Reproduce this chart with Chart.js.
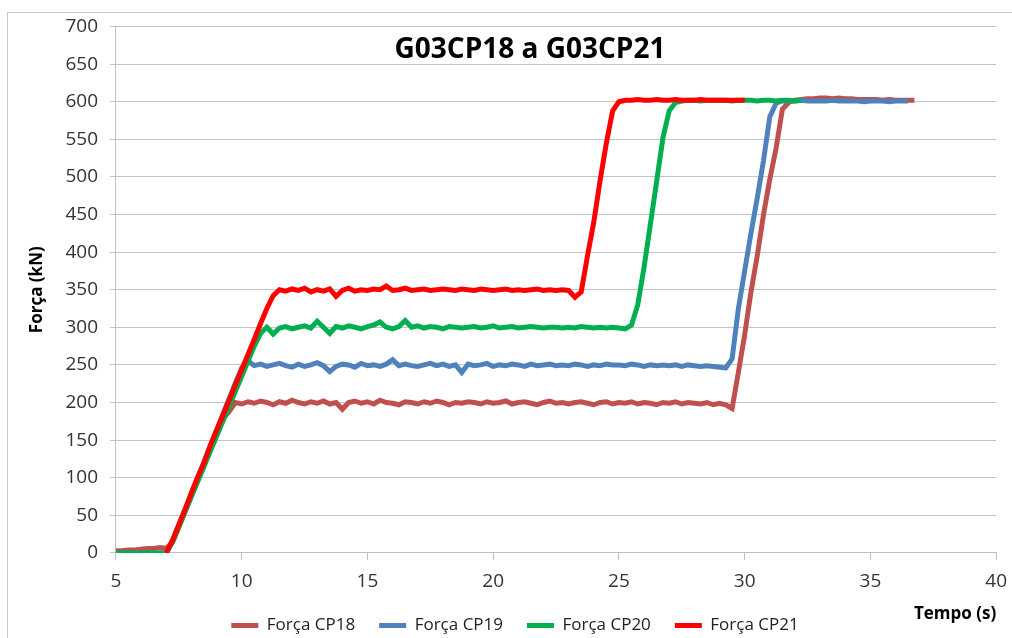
<!DOCTYPE html>
<html>
<head>
<meta charset="utf-8">
<script src="https://cdn.jsdelivr.net/npm/chart.js@4.4.1/dist/chart.umd.min.js"></script>
<style>
html, body { margin: 0; padding: 0; background: #fff; }
#wrap { position: relative; width: 1012px; height: 638px; overflow: hidden; }
#frame { position: absolute; left: 7px; top: 12px; width: 1100px; height: 700px; border-left: 1px solid #c8c8c8; border-top: 1px solid #c8c8c8; pointer-events: none; }
</style>
</head>
<body>
<div id="wrap">
  <canvas id="forceChart" width="1012" height="638"></canvas>
  <div id="frame"></div>
</div>
<script>
// dados (tempo em s, força em kN)
const titulo = 'G03CP18 a G03CP21';
const nomes = ['Força CP18', 'Força CP19', 'Força CP20', 'Força CP21'];
const cores = ['#C0504D', '#4F81BD', '#00B050', '#FF0000'];

const tempo = [
  5, 5.25, 5.5, 5.75, 6, 6.25, 6.5, 6.75,
  7, 7.25, 7.5, 7.75, 8, 8.25, 8.5, 8.75,
  9, 9.25, 9.5, 9.75, 10, 10.25, 10.5, 10.75,
  11, 11.25, 11.5, 11.75, 12, 12.25, 12.5, 12.75,
  13, 13.25, 13.5, 13.75, 14, 14.25, 14.5, 14.75,
  15, 15.25, 15.5, 15.75, 16, 16.25, 16.5, 16.75,
  17, 17.25, 17.5, 17.75, 18, 18.25, 18.5, 18.75,
  19, 19.25, 19.5, 19.75, 20, 20.25, 20.5, 20.75,
  21, 21.25, 21.5, 21.75, 22, 22.25, 22.5, 22.75,
  23, 23.25, 23.5, 23.75, 24, 24.25, 24.5, 24.75,
  25, 25.25, 25.5, 25.75, 26, 26.25, 26.5, 26.75,
  27, 27.25, 27.5, 27.75, 28, 28.25, 28.5, 28.75,
  29, 29.25, 29.5, 29.75, 30, 30.25, 30.5, 30.75,
  31, 31.25, 31.5, 31.75, 32, 32.25, 32.5, 32.75,
  33, 33.25, 33.5, 33.75, 34, 34.25, 34.5, 34.75,
  35, 35.25, 35.5, 35.75, 36, 36.25, 36.5, 36.75
];

const cp18 = [
  3, 3, 4, 4, 5, 6, 6, 7,
  6, 14, 34, 55, 76, 97, 117, 137,
  157, 178, 188, 200, 198, 201, 199, 202,
  200, 197, 201, 199, 203, 200, 198, 201,
  199, 202, 198, 200, 191, 200, 202, 199,
  201, 198, 203, 200, 199, 197, 201, 200,
  198, 201, 199, 202, 200, 197, 200, 199,
  201, 200, 198, 201, 199, 200, 202, 198,
  200, 201, 199, 197, 200, 202, 199, 200,
  198, 200, 201, 199, 197, 200, 201, 198,
  200, 199, 201, 198, 200, 199, 197, 200,
  199, 201, 198, 200, 199, 198, 200, 197,
  199, 197, 192, 240, 290, 347, 395, 450,
  497, 538, 590, 599, 602, 603, 604, 604,
  605, 605, 604, 605, 604, 604, 603, 603,
  603, 603, 602, 603, 602, 602, 602, 602
];

const cp19 = [
  0, 0, 0, 0, 0, 0, 0, 0,
  0, 16, 37, 58, 79, 100, 121, 142,
  163, 184, 205, 226, 246, 255, 249, 251,
  248, 250, 252, 249, 247, 251, 248, 250,
  253, 249, 241, 248, 251, 250, 247, 252,
  249, 250, 248, 251, 257, 249, 251, 249,
  248, 250, 252, 249, 251, 248, 250, 240,
  251, 249, 250, 252, 248, 250, 249, 251,
  250, 248, 251, 249, 250, 251, 249, 250,
  249, 251, 250, 248, 250, 249, 251, 250,
  250, 249, 251, 250, 248, 250, 249, 250,
  249, 250, 248, 250, 249, 248, 249, 248,
  247, 246, 258, 325, 375, 425, 472, 522,
  580, 598, 601, 601, 601, 602, 601, 601,
  601, 601, 602, 601, 601, 601, 601, 600,
  601, 601, 601, 600, 601, 601, 601, null
];

const cp20 = [
  0, 0, 0, 0, 0, 0, 0, 0,
  0, 15, 35, 55, 75, 95, 115, 135,
  155, 175, 195, 215, 235, 255, 275, 292,
  300, 291, 299, 301, 298, 300, 302, 299,
  308, 300, 292, 301, 299, 302, 300, 298,
  301, 303, 307, 300, 298, 301, 309, 300,
  302, 299, 301, 300, 298, 301, 300, 299,
  300, 301, 299, 300, 302, 299, 300, 301,
  299, 300, 301, 300, 299, 300, 300, 299,
  300, 299, 301, 300, 299, 300, 299, 300,
  299, 298, 303, 330, 380, 437, 494, 552,
  588, 599, 601, 602, 602, 601, 602, 602,
  602, 602, 601, 602, 602, 602, 601, 602,
  602, 601, 602, 602, 601, 602, null, null,
  null, null, null, null, null, null, null, null,
  null, null, null, null, null, null, null, null
];

const cp21 = [
  null, null, null, null, null, null, null, null,
  0, 17, 38, 58, 80, 101, 120, 143,
  163, 183, 203, 224, 244, 264, 284, 305,
  325, 342, 350, 348, 351, 349, 352, 347,
  350, 348, 351, 341, 349, 352, 348, 350,
  349, 351, 350, 355, 349, 350, 352, 349,
  350, 351, 349, 350, 351, 350, 349, 351,
  350, 349, 351, 350, 349, 350, 351, 349,
  350, 349, 350, 351, 349, 350, 349, 350,
  349, 340, 347, 395, 440, 495, 545, 588,
  600, 602, 602, 603, 602, 602, 603, 602,
  602, 603, 602, 602, 602, 603, 602, 602,
  602, 602, 602, 602, 602, null, null, null,
  null, null, null, null, null, null, null, null,
  null, null, null, null, null, null, null, null,
  null, null, null, null, null, null, null, null
];

const ticksX = [5, 10, 15, 20, 25, 30, 35, 40];
const ticksY = [0, 50, 100, 150, 200, 250, 300, 350, 400, 450, 500, 550, 600, 650, 700];

const series = [cp18, cp19, cp20, cp21];

function pontos(valores) {
    return tempo.map((t, i) => ({ x: t, y: valores[i] }));
}

// título desenhado sobre a área do gráfico, como no original
const tituloPlugin = {
    id: 'tituloPlugin',
    afterDraw(chart) {
        const c = chart.ctx;
        c.save();
        c.font = 'bold 28px "Open Sans"';
        c.fillStyle = '#000';
        c.textAlign = 'center';
        c.textBaseline = 'middle';
        c.fillText(titulo, 530, 50);
        c.restore();
    }
};

const ctx = document.getElementById('forceChart').getContext('2d');
const forceChart = new Chart(ctx, {
    type: 'line',
    data: {
        datasets: series.map((s, i) => ({
            label: nomes[i],
            data: pontos(s),
            borderColor: cores[i],
            backgroundColor: cores[i],
            borderWidth: 5,
            pointRadius: 0,
            tension: 0,
            fill: false,
            order: 4 - i
        }))
    },
    options: {
        responsive: false,
        animation: false,
        layout: {
            padding: { left: 28, right: 10, top: 26.5, bottom: -6 }
        },
        scales: {
            x: {
                type: 'linear',
                min: 5,
                max: 40,
                afterBuildTicks: axis => { axis.ticks = ticksX.map(v => ({ value: v })); },
                ticks: {
                    font: { family: 'Open Sans', size: 19, lineHeight: 1.8 },
                    color: '#333',
                    padding: 5,
                    maxRotation: 0
                },
                grid: {
                    drawOnChartArea: false,
                    drawTicks: true,
                    tickLength: 7,
                    color: '#bfbfbf'
                },
                border: { color: '#bfbfbf' },
                title: {
                    display: true,
                    text: 'Tempo (s)',
                    align: 'end',
                    color: '#000',
                    font: { family: 'Open Sans', size: 17, weight: 'bold' },
                    padding: { top: -0.5, bottom: -31 }
                }
            },
            y: {
                min: 0,
                max: 700,
                afterBuildTicks: axis => { axis.ticks = ticksY.map(v => ({ value: v })); },
                ticks: {
                    font: { family: 'Open Sans', size: 19 },
                    color: '#333',
                    padding: 12
                },
                grid: {
                    color: '#c4c4c4',
                    tickLength: 6
                },
                border: { color: '#bfbfbf' },
                title: {
                    display: true,
                    text: 'Força (kN)',
                    color: '#000',
                    font: { family: 'Open Sans', size: 17, weight: 'bold' },
                    padding: { top: -1, bottom: 6 }
                }
            }
        },
        plugins: {
            legend: {
                position: 'bottom',
                labels: {
                    usePointStyle: true,
                    pointStyle: 'line',
                    pointStyleWidth: 27,
                    padding: 24,
                    color: '#222',
                    font: { family: 'Open Sans', size: 17 },
                    sort: (a, b) => a.datasetIndex - b.datasetIndex
                }
            },
            tooltip: { enabled: false }
        }
    },
    plugins: [tituloPlugin]
});
</script>
</body>
</html>
